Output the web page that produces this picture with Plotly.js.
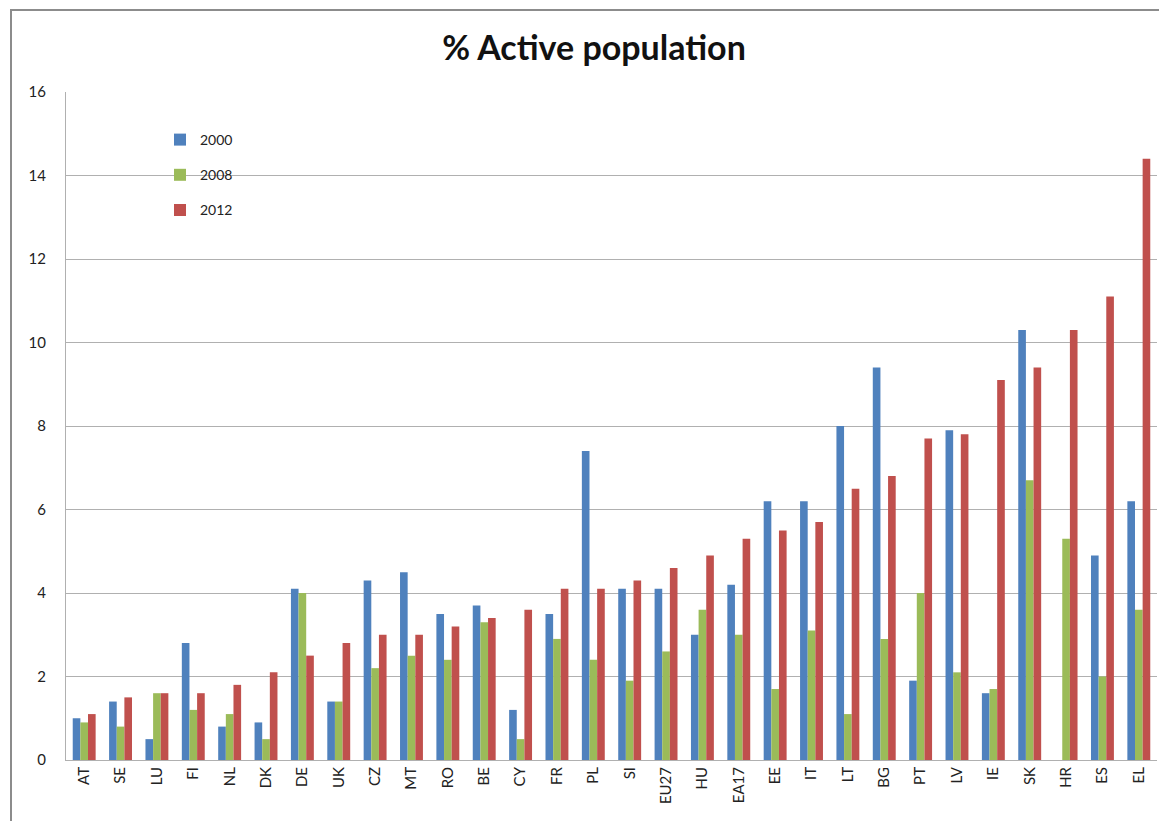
<!DOCTYPE html>
<html>
<head>
<meta charset="utf-8">
<script src="https://cdn.plot.ly/plotly-3.0.1.min.js"></script>
<style>
  html, body { margin: 0; padding: 0; background: #ffffff; }
  #wrap { position: relative; width: 1159px; height: 821px; overflow: hidden; }
  #chart { position: absolute; left: 0; top: 0; width: 1159px; height: 821px; }
  #frame { position: absolute; left: 10px; top: 9px; width: 1170px; height: 830px;
           border: 2px solid #8c8c8c; box-sizing: border-box; pointer-events: none; }
</style>
</head>
<body>
<div id="wrap">
  <div id="chart"></div>
  <div id="frame"></div>
</div>
<script>
const countries = ["AT","SE","LU","FI","NL","DK","DE","UK","CZ","MT","RO","BE","CY","FR","PL","SI","EU27","HU","EA17","EE","IT","LT","BG","PT","LV","IE","SK","HR","ES","EL"];
const v2000 = [1.0,1.4,0.5,2.8,0.8,0.9,4.1,1.4,4.3,4.5,3.5,3.7,1.2,3.5,7.4,4.1,4.1,3.0,4.2,6.2,6.2,8.0,9.4,1.9,7.9,1.6,10.3,null,4.9,6.2];
const v2008 = [0.9,0.8,1.6,1.2,1.1,0.5,4.0,1.4,2.2,2.5,2.4,3.3,0.5,2.9,2.4,1.9,2.6,3.6,3.0,1.7,3.1,1.1,2.9,4.0,2.1,1.7,6.7,5.3,2.0,3.6];
const v2012 = [1.1,1.5,1.6,1.6,1.8,2.1,2.5,2.8,3.0,3.0,3.2,3.4,3.6,4.1,4.1,4.3,4.6,4.9,5.3,5.5,5.7,6.5,6.8,7.7,7.8,9.1,9.4,10.3,11.1,14.4];
const seriesNames = ["2000","2008","2012"];
const yTicks = [0,2,4,6,8,10,12,14,16];

const colors = ["#4f81bd","#9bbb59","#c0504d"];
const values = [v2000, v2008, v2012];

const traces = values.map((v, i) => ({
  type: "bar",
  name: seriesNames[i],
  x: countries,
  y: v,
  marker: { color: colors[i], line: { width: 0 } },
  legendgroup: "g" + i,
  hoverinfo: "x+y+name"
}));

const layout = {
  width: 1159,
  height: 821,
  paper_bgcolor: "#ffffff",
  plot_bgcolor: "#ffffff",
  margin: { l: 66, r: 2, t: 92, b: 61, pad: 0 },
  font: { family: "Lato, 'Open Sans', sans-serif", color: "#222222", size: 14 },
  title: {
    text: "<b>% Active population</b>",
    font: { family: "Lato, 'Open Sans', sans-serif", size: 34, color: "#111111" },
    xref: "container", x: 594 / 1159, xanchor: "center",
    yref: "container", y: 1 - 48 / 821, yanchor: "middle"
  },
  barmode: "group",
  bargap: 0.37,
  bargroupgap: 0,
  xaxis: {
    type: "category",
    tickangle: -90,
    showline: true,
    linecolor: "#b0b0b0",
    linewidth: 1,
    showgrid: false,
    ticks: "",
    tickfont: { size: 15, color: "#222222" },
    fixedrange: true
  },
  yaxis: {
    range: [0, 16],
    tickvals: yTicks,
    ticktext: yTicks.map(String),
    showgrid: true,
    gridcolor: "#b0b0b0",
    gridwidth: 1,
    showline: true,
    linecolor: "#b0b0b0",
    linewidth: 1,
    zeroline: false,
    ticks: "",
    ticklabelstandoff: 16,
    tickfont: { size: 15, color: "#222222" },
    fixedrange: true
  },
  showlegend: true,
  legend: {
    x: (160 - 66) / 1091,
    y: 1 - (124 - 92) / 668,
    xanchor: "left",
    yanchor: "top",
    bgcolor: "rgba(255,255,255,0)",
    borderwidth: 0,
    traceorder: "grouped",
    tracegroupgap: 14,
    itemwidth: 30,
    font: { size: 14, color: "#222222" }
  }
};

Plotly.newPlot("chart", traces, layout, { displayModeBar: false, staticPlot: true });
</script>
</body>
</html>
